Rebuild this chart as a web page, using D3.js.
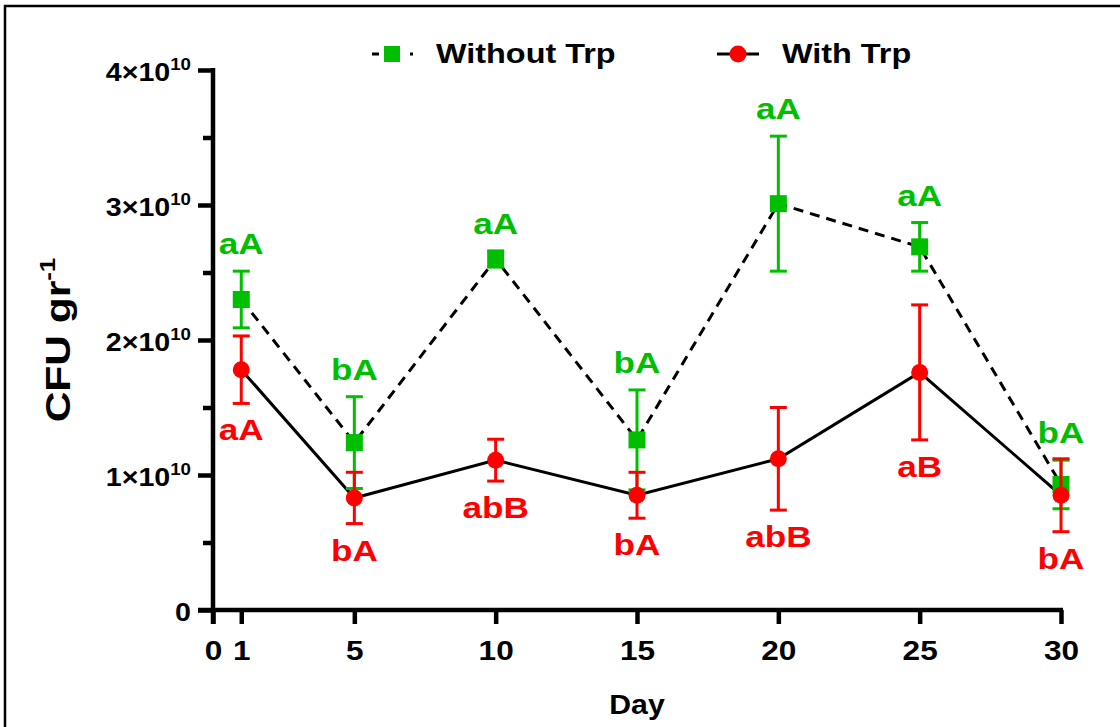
<!DOCTYPE html>
<html>
<head>
<meta charset="utf-8">
<script src="https://cdn.jsdelivr.net/npm/d3@7"></script>
<style>
  html, body { margin: 0; padding: 0; background: #fff; }
  svg { display: block; }
  text { font-family: "Liberation Sans", Arial, sans-serif; font-weight: bold; }
</style>
</head>
<body>
<script>
// ---- data ----
const days = [1, 5, 10, 15, 20, 25, 30];
const withoutTrp = [2.30e10, 1.24e10, 2.60e10, 1.26e10, 3.01e10, 2.69e10, 0.93e10];
const withoutTrpErr = [0.21e10, 0.34e10, 0.06e10, 0.37e10, 0.50e10, 0.18e10, 0.18e10];
const withTrp = [1.78e10, 0.83e10, 1.11e10, 0.85e10, 1.12e10, 1.76e10, 0.85e10];
const withTrpErr = [0.25e10, 0.19e10, 0.155e10, 0.17e10, 0.38e10, 0.50e10, 0.27e10];
const withoutTrpLetters = ["aA", "bA", "aA", "bA", "aA", "aA", "bA"];
const withTrpLetters = ["aA", "bA", "abB", "bA", "abB", "aB", "bA"];
const xTicks = [0, 1, 5, 10, 15, 20, 25, 30];
const yMajorTicks = [0, 1e10, 2e10, 3e10, 4e10];
const yMinorTicks = [0.5e10, 1.5e10, 2.5e10, 3.5e10];
const seriesNames = ["Without Trp", "With Trp"];

// ---- layout ----
const W = 1120, H = 727;
const GREEN = "#00BF00", RED = "#FF0000";
const SX = 1.17; // horizontal stretch of the lettering
const svg = d3.select("body").append("svg").attr("width", W).attr("height", H);

// frame
svg.append("rect").attr("x", 5).attr("y", 6).attr("width", W + 10).attr("height", H + 10)
  .attr("fill", "none").attr("stroke", "#000").attr("stroke-width", 2.5);

const x = d3.scaleLinear().domain([0, 30]).range([213, 1061]);
const y = d3.scaleLinear().domain([0, 4e10]).range([610, 70]);

const AXW = 4.5;

function label(parent, px, py, txt, size, opts = {}) {
  const g = parent.append("g").attr("transform", `translate(${px},${py}) scale(${opts.sx || SX},1)`);
  return g.append("text").attr("text-anchor", opts.anchor || "middle")
    .attr("font-size", size).attr("fill", opts.fill || "#000").text(txt);
}

// y axis (major)
const yAxis = d3.axisLeft(y).tickValues(yMajorTicks).tickSize(15).tickSizeOuter(0).tickFormat(() => "");
const gy = svg.append("g").attr("transform", `translate(${x(0)},0)`).call(yAxis);
gy.select(".domain").attr("stroke-width", AXW).attr("d", `M0,${y(4e10) - 2}V${y(0) + 14}`);
gy.selectAll(".tick line").attr("stroke-width", AXW);
// y axis (minor)
const yMinor = d3.axisLeft(y).tickValues(yMinorTicks).tickSize(10).tickFormat(() => "");
const gym = svg.append("g").attr("transform", `translate(${x(0)},0)`).call(yMinor);
gym.select(".domain").remove();
gym.selectAll(".tick line").attr("stroke-width", AXW);

// y tick labels with superscripts
const YSX = 1.1;
gy.selectAll(".tick").each(function(d) {
  const t = d3.select(this).append("text")
    .attr("transform", `scale(${YSX},1)`)
    .attr("x", -22 / YSX).attr("y", 10).attr("text-anchor", "end")
    .attr("fill", "#000").attr("font-size", 26)
    .style("font-family", '"Liberation Sans", Arial, sans-serif').style("font-weight", "bold");
  if (d === 0) {
    t.text("0");
  } else {
    const m = d / 1e10;
    t.append("tspan").text(m + "×10");
    t.append("tspan").attr("font-size", 17).attr("dy", -11).text("10");
  }
});

// x axis
const xAxis = d3.axisBottom(x).tickValues(xTicks).tickSize(14).tickSizeOuter(0).tickFormat(d3.format("d"));
const gx = svg.append("g").attr("transform", `translate(0,${y(0)})`).call(xAxis);
gx.select(".domain").attr("stroke-width", AXW).attr("d", `M${x(0) - 15},0H${x(30) + 2}`);
gx.selectAll(".tick line").attr("stroke-width", AXW);
gx.selectAll(".tick text").attr("transform", `scale(${SX},1)`).attr("y", 50).attr("dy", null)
  .attr("font-size", 27).attr("fill", "#000")
  .style("font-family", '"Liberation Sans", Arial, sans-serif').style("font-weight", "bold");

// axis titles
label(svg, 637, 714, "Day", 27, { sx: 1.12 });
const ytg = svg.append("g").attr("transform", "translate(70,340) rotate(-90) scale(1.18,1)");
const yt = ytg.append("text").attr("text-anchor", "middle").attr("font-size", 36);
yt.append("tspan").text("CFU gr");
yt.append("tspan").attr("font-size", 22).attr("dy", -15).text("-1");

// lines
const pts = (vals) => days.map((d, i) => [x(d), y(vals[i])]);
const line = d3.line();
svg.append("path").attr("d", line(pts(withoutTrp))).attr("fill", "none")
  .attr("stroke", "#000").attr("stroke-width", 3).attr("stroke-dasharray", "10,7");
svg.append("path").attr("d", line(pts(withTrp))).attr("fill", "none")
  .attr("stroke", "#000").attr("stroke-width", 3);

function errorBars(vals, errs, color) {
  const g = svg.append("g").attr("stroke", color).attr("stroke-width", 3).attr("fill", "none");
  days.forEach((d, i) => {
    const cx = x(d), top = y(vals[i] + errs[i]), bot = y(vals[i] - errs[i]);
    g.append("line").attr("x1", cx).attr("x2", cx).attr("y1", top).attr("y2", bot);
    g.append("line").attr("x1", cx - 8.5).attr("x2", cx + 8.5).attr("y1", top).attr("y2", top);
    g.append("line").attr("x1", cx - 8.5).attr("x2", cx + 8.5).attr("y1", bot).attr("y2", bot);
  });
}

// green series
errorBars(withoutTrp, withoutTrpErr, GREEN);
svg.append("g").selectAll("rect").data(days).join("rect")
  .attr("x", (d) => x(d) - 8.5).attr("y", (d, i) => y(withoutTrp[i]) - 8.5)
  .attr("width", 17).attr("height", 17).attr("fill", GREEN);
// red series
errorBars(withTrp, withTrpErr, RED);
svg.append("g").selectAll("circle").data(days).join("circle")
  .attr("cx", (d) => x(d)).attr("cy", (d, i) => y(withTrp[i]))
  .attr("r", 8.5).attr("fill", RED);

// letters
const gl = svg.append("g");
days.forEach((d, i) => {
  label(gl, x(d), y(withoutTrp[i] + withoutTrpErr[i]) - 17, withoutTrpLetters[i], 30, { fill: GREEN });
  label(gl, x(d), y(withTrp[i] - withTrpErr[i]) + 37, withTrpLetters[i], 30, { fill: RED });
});

// legend
const lg = svg.append("g");
lg.append("line").attr("x1", 372).attr("x2", 413).attr("y1", 54).attr("y2", 54)
  .attr("stroke", "#000").attr("stroke-width", 3).attr("stroke-dasharray", "7,31,3");
lg.append("rect").attr("x", 384).attr("y", 46).attr("width", 16).attr("height", 16).attr("fill", GREEN);
label(lg, 436, 63, seriesNames[0], 27, { anchor: "start", sx: 1.2 });
lg.append("line").attr("x1", 717).attr("x2", 759).attr("y1", 54).attr("y2", 54)
  .attr("stroke", "#000").attr("stroke-width", 3);
lg.append("circle").attr("cx", 738).attr("cy", 54).attr("r", 8.5).attr("fill", RED);
label(lg, 782, 63, seriesNames[1], 27, { anchor: "start", sx: 1.2 });
</script>
</body>
</html>
